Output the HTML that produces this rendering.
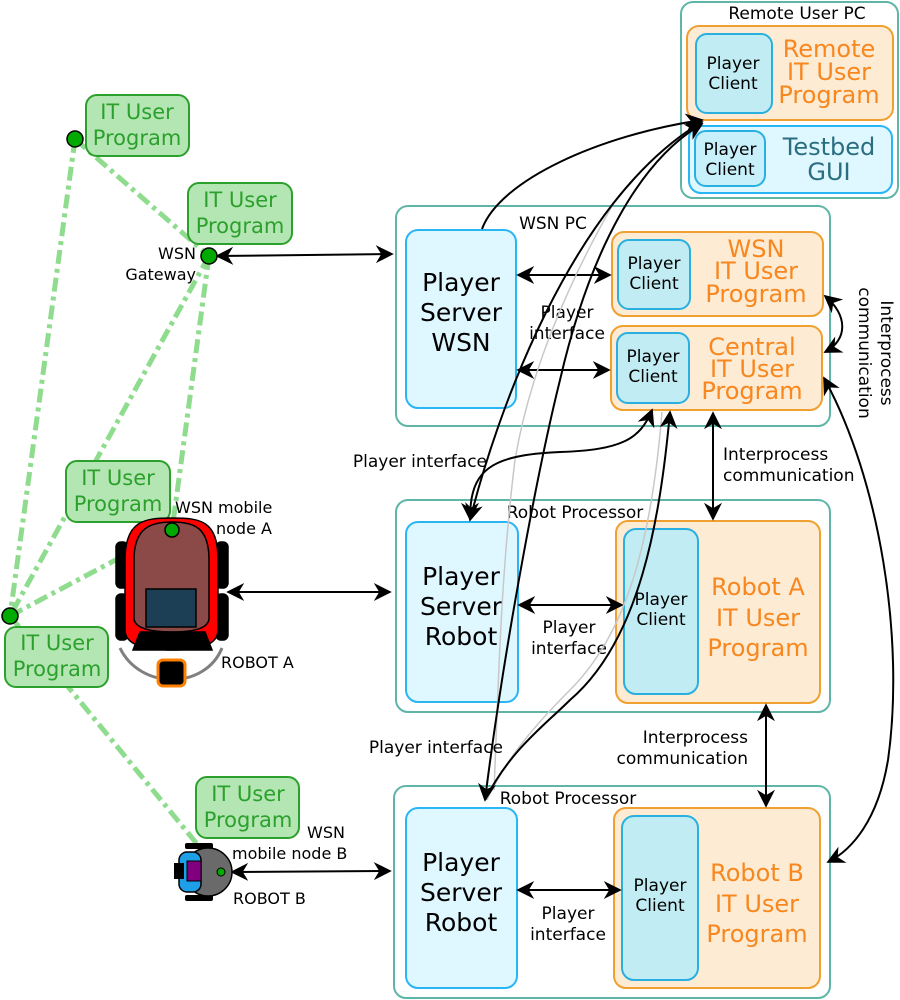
<!DOCTYPE html>
<html><head><meta charset="utf-8"><style>
html,body{margin:0;padding:0;background:#fff}
svg{display:block}
text{font-family:"DejaVu Sans","Liberation Sans",sans-serif}
</style></head><body>
<svg width="900" height="1000" viewBox="0 0 900 1000" xmlns="http://www.w3.org/2000/svg">
<defs>
<marker id="b" viewBox="0 0 10 10" refX="9" refY="5" markerWidth="18" markerHeight="18" orient="auto-start-reverse" markerUnits="userSpaceOnUse">
<path d="M0,0 L10,5 L0,10 L3,5 z" fill="#000"/></marker>
</defs>

<g stroke="#8fdc8f" stroke-width="5" stroke-dasharray="14,5,4,5" fill="none">
<line x1="75" y1="139" x2="209" y2="256"/>
<line x1="75" y1="139" x2="10" y2="616"/>
<line x1="209" y1="256" x2="10" y2="616"/>
<line x1="209" y1="256" x2="172" y2="530"/>
<line x1="10" y1="616" x2="172" y2="530"/>
<line x1="10" y1="616" x2="220" y2="872"/>
</g>

<!-- Remote User PC -->
<rect x="681" y="2" width="217" height="196" rx="12" fill="#fff" stroke="#5fb6a8" stroke-width="2"/>
<text x="797" y="19" font-size="17" text-anchor="middle">Remote User PC</text>
<rect x="687" y="26" width="206" height="94" rx="12" fill="#fdebd3" stroke="#f0a030" stroke-width="2"/>
<rect x="696" y="34" width="76" height="79" rx="11" fill="#c1ecf3" stroke="#29b0e0" stroke-width="2"/>
<text x="733" y="69" font-size="17" text-anchor="middle">Player</text>
<text x="733" y="89" font-size="17" text-anchor="middle">Client</text>
<g fill="#f7871e" font-size="24" text-anchor="middle"><text x="829" y="57">Remote</text><text x="829" y="80">IT User</text><text x="829" y="103">Program</text></g>
<rect x="689" y="126" width="203" height="67" rx="12" fill="#dff7ff" stroke="#29b6f6" stroke-width="2"/>
<rect x="695" y="131" width="70" height="55" rx="11" fill="#c8f0fa" stroke="#29b0e0" stroke-width="2"/>
<text x="730" y="155" font-size="17" text-anchor="middle">Player</text>
<text x="730" y="175" font-size="17" text-anchor="middle">Client</text>
<g fill="#2a6e80" font-size="24" text-anchor="middle"><text x="829" y="155">Testbed</text><text x="829" y="180">GUI</text></g>

<!-- WSN PC -->
<rect x="396" y="206" width="434" height="220" rx="12" fill="#fff" stroke="#5fb6a8" stroke-width="2"/>
<text x="553" y="229" font-size="17" text-anchor="middle">WSN PC</text>
<rect x="406" y="230" width="110" height="178" rx="12" fill="#dff7ff" stroke="#29b6f6" stroke-width="2"/>
<g font-size="25" text-anchor="middle"><text x="461" y="291">Player</text><text x="461" y="321">Server</text><text x="461" y="351">WSN</text></g>
<rect x="612" y="232" width="211" height="84" rx="12" fill="#fdebd3" stroke="#f0a030" stroke-width="2"/>
<rect x="618" y="240" width="72" height="69" rx="11" fill="#c1ecf3" stroke="#29b0e0" stroke-width="2"/>
<text x="654" y="269" font-size="17" text-anchor="middle">Player</text>
<text x="654" y="289" font-size="17" text-anchor="middle">Client</text>
<g fill="#f7871e" font-size="24" text-anchor="middle"><text x="756" y="257">WSN</text><text x="756" y="279">IT User</text><text x="756" y="302">Program</text></g>
<rect x="611" y="326" width="211" height="84" rx="12" fill="#fdebd3" stroke="#f0a030" stroke-width="2"/>
<rect x="617" y="333" width="72" height="70" rx="11" fill="#c1ecf3" stroke="#29b0e0" stroke-width="2"/>
<text x="653" y="362" font-size="17" text-anchor="middle">Player</text>
<text x="653" y="382" font-size="17" text-anchor="middle">Client</text>
<g fill="#f7871e" font-size="24" text-anchor="middle"><text x="752" y="355">Central</text><text x="752" y="377">IT User</text><text x="752" y="399">Program</text></g>
<g font-size="17" text-anchor="middle"><text x="567" y="318">Player</text><text x="567" y="339">interface</text></g>
<line x1="518" y1="275" x2="610" y2="275" stroke="#000" stroke-width="2" marker-start="url(#b)" marker-end="url(#b)"/>
<line x1="518" y1="370" x2="609" y2="370" stroke="#000" stroke-width="2" marker-start="url(#b)" marker-end="url(#b)"/>
<path d="M825,296 C848,315 848,340 825,352" stroke="#000" stroke-width="2" fill="none" marker-start="url(#b)" marker-end="url(#b)"/>
<g font-size="17" text-anchor="middle"><text transform="translate(881,353) rotate(90)">Interprocess</text><text transform="translate(859,353) rotate(90)">communication</text></g>

<!-- Robot Processor A -->
<rect x="396" y="500" width="434" height="212" rx="12" fill="#fff" stroke="#5fb6a8" stroke-width="2"/>
<text x="575" y="518" font-size="17" text-anchor="middle">Robot Processor</text>
<rect x="406" y="522" width="112" height="180" rx="12" fill="#dff7ff" stroke="#29b6f6" stroke-width="2"/>
<g font-size="25" text-anchor="middle"><text x="461" y="585">Player</text><text x="461" y="615">Server</text><text x="461" y="645">Robot</text></g>
<rect x="616" y="521" width="204" height="182" rx="12" fill="#fdebd3" stroke="#f0a030" stroke-width="2"/>
<rect x="624" y="529" width="74" height="165" rx="12" fill="#c1ecf3" stroke="#29b0e0" stroke-width="2"/>
<text x="661" y="605" font-size="17" text-anchor="middle">Player</text>
<text x="661" y="625" font-size="17" text-anchor="middle">Client</text>
<g fill="#f7871e" font-size="24" text-anchor="middle"><text x="758" y="595">Robot A</text><text x="758" y="626">IT User</text><text x="758" y="656">Program</text></g>
<line x1="519" y1="605" x2="622" y2="605" stroke="#000" stroke-width="2" marker-start="url(#b)" marker-end="url(#b)"/>
<g font-size="17" text-anchor="middle"><text x="569" y="633">Player</text><text x="569" y="654">interface</text></g>

<!-- Robot Processor B -->
<rect x="394" y="786" width="436" height="212" rx="12" fill="#fff" stroke="#5fb6a8" stroke-width="2"/>
<text x="568" y="804" font-size="17" text-anchor="middle">Robot Processor</text>
<rect x="406" y="808" width="111" height="180" rx="12" fill="#dff7ff" stroke="#29b6f6" stroke-width="2"/>
<g font-size="25" text-anchor="middle"><text x="461" y="871">Player</text><text x="461" y="901">Server</text><text x="461" y="931">Robot</text></g>
<rect x="614" y="808" width="206" height="180" rx="12" fill="#fdebd3" stroke="#f0a030" stroke-width="2"/>
<rect x="622" y="816" width="76" height="164" rx="12" fill="#c1ecf3" stroke="#29b0e0" stroke-width="2"/>
<text x="660" y="891" font-size="17" text-anchor="middle">Player</text>
<text x="660" y="911" font-size="17" text-anchor="middle">Client</text>
<g fill="#f7871e" font-size="24" text-anchor="middle"><text x="757" y="881">Robot B</text><text x="757" y="912">IT User</text><text x="757" y="942">Program</text></g>
<line x1="518" y1="890" x2="620" y2="890" stroke="#000" stroke-width="2" marker-start="url(#b)" marker-end="url(#b)"/>
<g font-size="17" text-anchor="middle"><text x="568" y="919">Player</text><text x="568" y="940">interface</text></g>

<!-- grey thin curves -->
<path d="M612,206 C570,280 530,370 515,460 C500,580 498,700 494,790" stroke="#c8c8c8" stroke-width="1.5" fill="none"/>
<path d="M662,412 C650,560 620,640 570,690 C535,725 505,760 487,800" stroke="#c8c8c8" stroke-width="1.5" fill="none"/>

<line x1="713" y1="413" x2="713" y2="519" stroke="#000" stroke-width="2" marker-start="url(#b)" marker-end="url(#b)"/>
<g font-size="17"><text x="723" y="460">Interprocess</text><text x="723" y="481">communication</text></g>
<line x1="766" y1="705" x2="766" y2="806" stroke="#000" stroke-width="2" marker-start="url(#b)" marker-end="url(#b)"/>
<g font-size="17" text-anchor="end"><text x="748" y="743">Interprocess</text><text x="748" y="764">communication</text></g>
<path d="M824,378 C880,480 905,640 888,760 C878,820 852,850 828,862" stroke="#000" stroke-width="2" fill="none" marker-start="url(#b)" marker-end="url(#b)"/>

<path d="M482,229 C500,180 600,135 702,120" stroke="#000" stroke-width="2" fill="none" marker-end="url(#b)"/>
<path d="M470,520 C495,420 570,200 702,122" stroke="#000" stroke-width="2" fill="none" marker-start="url(#b)" marker-end="url(#b)"/>
<path d="M485,800 C505,640 540,460 560,380 C590,250 640,160 702,124" stroke="#000" stroke-width="2" fill="none" marker-start="url(#b)" marker-end="url(#b)"/>
<path d="M470,519 C470,470 490,455 560,452 C620,450 640,440 652,410" stroke="#000" stroke-width="2" fill="none" marker-start="url(#b)" marker-end="url(#b)"/>
<path d="M485,800 C510,750 545,725 570,700 C640,640 660,520 670,412" stroke="#000" stroke-width="2" fill="none" marker-end="url(#b)"/>
<g font-size="17" text-anchor="end"><text x="487" y="467">Player interface</text><text x="503" y="753">Player interface</text></g>

<line x1="217" y1="256" x2="392" y2="254" stroke="#000" stroke-width="2" marker-start="url(#b)" marker-end="url(#b)"/>
<line x1="228" y1="592" x2="390" y2="592" stroke="#000" stroke-width="2" marker-start="url(#b)" marker-end="url(#b)"/>
<line x1="232" y1="872" x2="390" y2="871" stroke="#000" stroke-width="2" marker-start="url(#b)" marker-end="url(#b)"/>

<g fill="#b3e6b3" stroke="#2ca02c" stroke-width="2">
<rect x="86" y="95" width="103" height="61" rx="11"/>
<rect x="188" y="183" width="104" height="61" rx="11"/>
<rect x="66" y="461" width="104" height="61" rx="11"/>
<rect x="5" y="627" width="103" height="60" rx="11"/>
<rect x="196" y="777" width="103" height="61" rx="11"/>
</g>
<g fill="#2ca02c" font-size="21" text-anchor="middle">
<text x="137" y="119">IT User</text><text x="137" y="145">Program</text>
<text x="240" y="207">IT User</text><text x="240" y="233">Program</text>
<text x="118" y="485">IT User</text><text x="118" y="511">Program</text>
<text x="57" y="650">IT User</text><text x="57" y="676">Program</text>
<text x="248" y="801">IT User</text><text x="248" y="827">Program</text>
</g>

<!-- Robot A -->
<g stroke="#000" stroke-width="1.5">
<rect x="116" y="542" width="12" height="46" rx="5" fill="#000"/>
<rect x="116" y="594" width="12" height="46" rx="5" fill="#000"/>
<rect x="216" y="542" width="12" height="46" rx="5" fill="#000"/>
<rect x="216" y="594" width="12" height="46" rx="5" fill="#000"/>
<path d="M125,560 C125,520 145,518 172,518 C200,518 218,520 218,560 L218,630 C218,645 200,650 172,650 C145,650 125,645 125,630 Z" fill="#ff0000"/>
<path d="M134,560 C134,528 150,522 172,522 C195,522 209,528 209,560 L209,618 C209,628 195,632 172,632 C150,632 134,628 134,618 Z" fill="#8b4a48"/>
<rect x="146" y="589" width="50" height="38" fill="#1d3f55"/>
<path d="M140,632 L205,632 L212,650 L133,650 Z" fill="#000"/>
</g>
<path d="M120,648 C140,690 205,690 222,648" stroke="#808080" stroke-width="3" fill="none"/>
<rect x="158" y="660" width="27" height="26" rx="5" fill="#000" stroke="#ff8000" stroke-width="3"/>
<circle cx="172" cy="530" r="7" fill="#00aa00" stroke="#000" stroke-width="1.5"/>
<g font-size="16"><text x="175" y="513">WSN mobile</text><text x="216" y="534">node A</text><text x="221" y="668">ROBOT A</text></g>

<!-- Robot B -->
<rect x="185" y="843" width="28" height="6" rx="2" fill="#000"/>
<rect x="185" y="895" width="28" height="6" rx="2" fill="#000"/>
<circle cx="208" cy="872" r="24" fill="#6a6a6a" stroke="#000" stroke-width="1.5"/>
<rect x="179" y="852" width="22" height="40" rx="8" fill="#1ea0e8" stroke="#000" stroke-width="1.5"/>
<rect x="174" y="863" width="10" height="16" fill="#000"/>
<rect x="187" y="861" width="14" height="20" fill="#800080" stroke="#000"/>
<circle cx="221" cy="872" r="4" fill="#00aa00" stroke="#000"/>
<g font-size="16"><text x="307" y="838">WSN</text><text x="232" y="859">mobile node B</text><text x="233" y="904">ROBOT B</text></g>

<circle cx="75" cy="139" r="8" fill="#00aa00" stroke="#000" stroke-width="1.5"/>
<circle cx="209" cy="256" r="8" fill="#00aa00" stroke="#000" stroke-width="1.5"/>
<circle cx="10" cy="616" r="8" fill="#00aa00" stroke="#000" stroke-width="1.5"/>
<g font-size="16" text-anchor="end"><text x="196" y="259">WSN</text><text x="196" y="280">Gateway</text></g>
</svg>
</body></html>
